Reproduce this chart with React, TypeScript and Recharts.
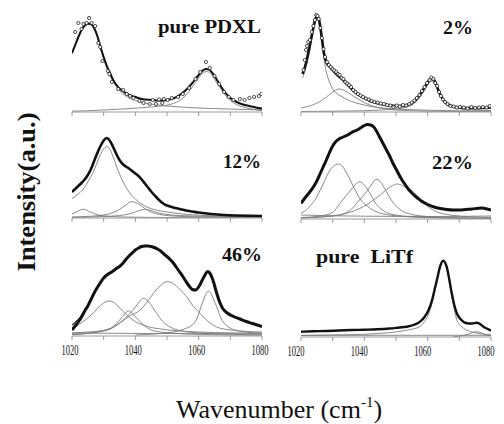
import React from "react";
import { ComposedChart, Line, Scatter, XAxis, YAxis } from "recharts";

type Pt = [number, number];

// wavenumber (cm-1), intensity (a.u.)
const TICKS = [1020, 1030, 1040, 1050, 1060, 1070, 1080];

// pure PDXL
const pdxlFit: Pt[] = [
  [1020, 59], [1021, 67], [1022, 75], [1023, 82], [1024, 86.5], [1025, 88.5], [1026, 88], [1027, 84],
  [1028, 76], [1029, 65], [1030, 55], [1031, 46], [1032, 39], [1033, 32], [1034, 27], [1036, 21],
  [1038, 17], [1040, 15], [1042, 13], [1045, 12], [1048, 11.5], [1050, 12], [1052, 13.5], [1054, 17],
  [1056, 22], [1058, 29], [1060, 37], [1061.5, 42], [1062.5, 43], [1063.5, 42], [1065, 36], [1066, 31],
  [1068, 21], [1070, 14], [1072, 10], [1074, 7.5], [1076, 6], [1078, 4.5], [1080, 3.5],
];
const pdxlBandA: Pt[] = [
  [1020, 58], [1021, 66], [1022, 74], [1023, 81], [1024, 85.5], [1025, 87.5], [1026, 87], [1027, 83],
  [1028, 75], [1029, 64], [1030, 53], [1031, 44], [1032, 36.5], [1033, 30.5], [1034, 25.5], [1036, 18.5],
  [1038, 14], [1040, 11.5], [1043, 9], [1046, 7.5], [1050, 6], [1055, 4.8], [1060, 4], [1065, 3.4],
  [1070, 2.9], [1075, 2.5], [1080, 2.2],
];
const pdxlBandB: Pt[] = [
  [1020, 0.8], [1025, 1.3], [1030, 2], [1035, 2.8], [1040, 3.8], [1045, 5], [1048, 6], [1050, 6.8],
  [1052, 8.5], [1054, 11.5], [1056, 17], [1058, 25], [1060, 34], [1061.5, 39.5], [1062.5, 40.5],
  [1063.5, 39.5], [1065, 33], [1066, 28], [1068, 18.5], [1070, 11.5], [1072, 7.5], [1074, 5], [1076, 3.5],
  [1078, 2.2], [1080, 1.3],
];
const pdxlPoints: Pt[] = [
  [1021, 80], [1022, 89], [1023, 83], [1023.6, 88], [1024.6, 89], [1025.4, 94], [1026.2, 89], [1027.3, 86],
  [1028.3, 69], [1028.9, 65], [1029.6, 51], [1031.3, 41], [1031.8, 38], [1032.6, 30], [1034.6, 23],
  [1036.2, 22], [1037.3, 18], [1038.3, 16], [1039.4, 14], [1041.3, 11], [1042.6, 9], [1044.5, 8],
  [1045.5, 12], [1046.5, 8], [1047.5, 12.5], [1048.5, 9], [1049, 13], [1050.2, 12], [1051.5, 14],
  [1053.5, 15], [1055, 18], [1057, 24], [1059, 33], [1060.5, 40], [1062.3, 50], [1063.5, 44], [1065, 36],
  [1066.5, 28], [1068, 20], [1069.5, 15], [1071, 12], [1073, 13], [1074.5, 12], [1076, 14], [1077.5, 15],
  [1079, 16], [1079.8, 18],
];

// 2%
const twoFit: Pt[] = [
  [1020.5, 38], [1021.5, 48], [1022.5, 62], [1023.5, 78], [1024.3, 90], [1025, 96], [1025.7, 92],
  [1026.5, 76], [1027.3, 58], [1028, 50], [1029, 45.5], [1030, 42], [1031, 38.5], [1032, 35.5], [1033, 33],
  [1034, 29.5], [1035, 26.5], [1036, 23], [1037, 20], [1038, 17.5], [1040, 14], [1042, 11], [1044, 9],
  [1046, 7.5], [1048, 6.5], [1050, 6], [1052, 6], [1054, 7.5], [1055.5, 10], [1057, 15], [1058.5, 22],
  [1060, 29.5], [1061, 33.5], [1062, 32], [1063, 25], [1064, 17], [1065, 12], [1066, 8.5], [1068, 5.5],
  [1070, 4.5], [1072, 4], [1076, 4], [1080, 4.5],
];
const twoBandA: Pt[] = [
  [1020.5, 34], [1021.5, 44], [1022.5, 58], [1023.5, 75], [1024.3, 88], [1025, 93], [1025.7, 89],
  [1026.5, 72], [1027.3, 52], [1028, 40], [1029, 30], [1030, 23], [1031, 19.5], [1032, 17], [1034, 13.5],
  [1036, 10.5], [1038, 8.5], [1040, 7], [1043, 5], [1046, 4], [1050, 3], [1055, 2.3], [1060, 1.8],
  [1070, 1.2], [1080, 1],
];
const twoBandB: Pt[] = [
  [1020, 4], [1022, 5.5], [1024, 7.5], [1026, 10.5], [1028, 15], [1030, 20], [1031, 22], [1032, 23],
  [1033, 22.5], [1034, 21], [1036, 17], [1038, 13], [1040, 9.5], [1042, 6.5], [1045, 4], [1050, 2],
  [1055, 1.2], [1060, 0.8], [1080, 0.3],
];
const twoBandC: Pt[] = [
  [1020, 0.5], [1030, 0.8], [1040, 1.3], [1045, 2], [1050, 3], [1053, 4.5], [1055, 7], [1057, 12.5],
  [1058.5, 19], [1060, 27], [1061, 31], [1062, 29.5], [1063, 23], [1064, 15.5], [1065, 10.5], [1066, 7.5],
  [1068, 4.5], [1070, 3.3], [1075, 2], [1080, 1.5],
];
const twoPoints: Pt[] = [
  [1020.8, 42], [1021.2, 52], [1021.6, 62], [1021.9, 66], [1022.3, 70], [1022.8, 72], [1023.4, 80],
  [1023.9, 86], [1024.4, 92], [1024.8, 97], [1025.2, 96], [1025.6, 93], [1026.1, 84], [1026.6, 74],
  [1027.1, 63], [1027.6, 55], [1028.2, 50], [1028.8, 47], [1029.4, 45], [1030, 43], [1030.5, 41.5],
  [1031.1, 40], [1031.7, 38], [1032.2, 37], [1032.8, 34], [1033.4, 33], [1034, 30], [1034.6, 28.5],
  [1035.2, 27], [1035.8, 25], [1036.5, 22], [1037.2, 20], [1038, 18], [1038.8, 16.5], [1039.6, 15],
  [1040.5, 13.5], [1041.4, 12.5], [1042.3, 11], [1043.2, 10], [1044.2, 9.5], [1045.2, 8.5], [1046.2, 8],
  [1047.2, 7], [1048.2, 6.5], [1049.2, 5], [1050.2, 6.5], [1051.2, 5.5], [1052.2, 7], [1053.2, 6.5],
  [1054.2, 8], [1055, 9.5], [1055.8, 11.5], [1056.6, 14], [1057.4, 17], [1058.2, 21], [1059, 25],
  [1059.8, 29], [1060.6, 32], [1061.2, 34.5], [1061.8, 33], [1062.4, 29], [1063, 26], [1063.6, 20],
  [1064.2, 16], [1064.8, 12.5], [1065.5, 10], [1066.3, 8], [1067.2, 6], [1068.2, 5.5], [1069.2, 4.5],
  [1070.2, 5], [1071.4, 4.5], [1072.6, 3.5], [1073.8, 5], [1075, 4], [1076.2, 4.5], [1077.4, 5],
  [1078.6, 4.5], [1079.6, 6],
];

// 12%
const twelveFit: Pt[] = [
  [1020, 26], [1021, 29], [1022, 32], [1023, 35], [1024, 38.5], [1025, 43], [1026, 49], [1027, 57],
  [1028, 65], [1029, 72], [1030, 77.5], [1031, 80], [1032, 77], [1033, 71], [1034, 64], [1035, 58],
  [1036, 54], [1037, 51.5], [1038, 49.5], [1039, 47], [1040, 44.5], [1041, 42], [1042, 38.5], [1043, 34.5],
  [1044, 30.5], [1045, 26.5], [1046, 23], [1047, 19.5], [1048, 16.5], [1049, 14], [1050, 12.5],
  [1052, 10.5], [1054, 9], [1056, 7.5], [1058, 6.5], [1060, 5.5], [1064, 4], [1068, 3], [1072, 2.5],
  [1076, 2.2], [1080, 2],
];
const twelveBandA: Pt[] = [
  [1020, 19.5], [1021, 21.5], [1022, 24], [1023, 27], [1024, 31], [1025, 36], [1026, 41.5], [1027, 48],
  [1028, 56], [1029, 63.5], [1030, 69], [1031, 71.5], [1032, 68.5], [1033, 61], [1034, 52], [1035, 44],
  [1036, 37], [1037, 31], [1038, 26], [1040, 19], [1042, 14], [1044, 10.5], [1046, 8.5], [1048, 7],
  [1050, 6], [1054, 4.3], [1058, 3.2], [1064, 2.3], [1070, 1.7], [1080, 1.2],
];
const twelveBandB: Pt[] = [
  [1020, 4], [1021, 5.3], [1022, 7], [1023, 8.5], [1023.6, 8.8], [1024.5, 8], [1025.5, 6.3], [1026.7, 4.7],
  [1028, 3.3], [1030, 2.2], [1033, 1.4], [1038, 0.9], [1045, 0.6], [1060, 0.3], [1080, 0.2],
];
const twelveBandC: Pt[] = [
  [1020, 1], [1025, 1.6], [1030, 3], [1033, 5.5], [1035, 8.5], [1037, 13], [1038.8, 16.3], [1040, 15.5],
  [1041.5, 13], [1043, 9.5], [1044.6, 6.5], [1046.5, 4.3], [1048.8, 3], [1052, 2], [1058, 1.2],
  [1070, 0.6], [1080, 0.4],
];
const twelveBandD: Pt[] = [
  [1020, 0.6], [1030, 1.5], [1035, 2.5], [1038, 4], [1040, 6], [1041.5, 7.8], [1043, 8.7], [1044.5, 8],
  [1046, 6.3], [1047.8, 4.7], [1050, 3.5], [1054, 2.5], [1058, 2], [1065, 1.4], [1080, 0.8],
];

// 22%
const ttFit: Pt[] = [
  [1020, 15.5], [1021, 20], [1022, 24], [1023, 28], [1024, 32.5], [1025, 38], [1026, 45], [1027, 52],
  [1028, 59], [1029, 66.5], [1030, 73], [1031, 77.5], [1032, 80], [1033, 81.5], [1034, 83], [1035, 84.5],
  [1036, 86.5], [1037, 88], [1038, 89.5], [1039, 91.5], [1040, 93.5], [1041, 94.5], [1042, 94], [1043, 92],
  [1044, 87], [1045, 81], [1046, 75], [1047, 69], [1048, 63], [1049, 56], [1050, 50], [1051, 44],
  [1052, 38.5], [1053, 34], [1054, 29.5], [1055, 26], [1056, 23], [1057, 20.5], [1058, 18], [1060, 14.5],
  [1062, 12], [1064, 10.5], [1066, 9.5], [1068, 9], [1070, 9], [1072, 9.5], [1074, 10], [1076, 10.8],
  [1077, 11], [1078, 10.5], [1080, 9],
];
const ttBandA: Pt[] = [
  [1020, 5.7], [1021, 7.5], [1022, 10], [1023, 13.5], [1024, 17.5], [1025, 22.3], [1026, 28.5], [1027, 35],
  [1028, 42], [1029, 48], [1030, 52], [1031, 54.5], [1031.8, 55], [1033, 53], [1034.4, 46], [1036, 36],
  [1037.6, 26], [1039, 18.5], [1040.5, 14], [1041.8, 10.7], [1044, 7], [1047.9, 4], [1052, 2.6],
  [1060, 1.5], [1070, 0.9], [1080, 0.6],
];
const ttBandB: Pt[] = [
  [1020, 1.5], [1026, 3], [1030, 6.5], [1032.3, 15.7], [1034, 22.5], [1036, 30], [1037.5, 35.5],
  [1038.6, 37.3], [1040, 34], [1041.8, 25.7], [1043.5, 16], [1045, 10.7], [1047, 6.5], [1050, 4],
  [1055, 2.3], [1065, 1.2], [1080, 0.6],
];
const ttBandC: Pt[] = [
  [1020, 1.2], [1030, 3], [1034, 6], [1036, 10], [1037.6, 15.7], [1039, 21], [1040.7, 27.3], [1042.5, 35.5],
  [1043.7, 39.7], [1045, 37.5], [1047, 27.3], [1048.5, 19], [1050.2, 12.3], [1052, 8], [1055, 4.5],
  [1060, 2.5], [1070, 1.2], [1080, 0.8],
];
const ttBandD: Pt[] = [
  [1020, 1], [1028, 2.5], [1032, 4], [1034.4, 5.7], [1037, 8.5], [1039.7, 12.3], [1042, 17], [1045, 24],
  [1047, 29.5], [1049, 33.5], [1050.2, 35], [1052, 33.5], [1054, 29.5], [1055.5, 27.3], [1057, 22],
  [1059, 15.5], [1060.8, 10.7], [1063, 7], [1066, 4.5], [1070, 3], [1075, 2], [1080, 1.5],
];
const ttBase: Pt[] = [
  [1020, 4], [1030, 3.2], [1040, 2.8], [1050, 2.6], [1060, 2.5], [1070, 2.6], [1080, 3],
];

// 46%
const fsFit: Pt[] = [
  [1020, 6], [1021, 10], [1022, 14], [1023, 19], [1024, 25], [1025, 30], [1026, 36.5], [1027, 43],
  [1028, 48.5], [1029, 53.5], [1030, 58], [1031, 61], [1032, 63], [1033, 65], [1034, 67.5], [1035, 69.5],
  [1036, 72.5], [1037, 76.5], [1038, 80], [1039, 83], [1040, 86], [1041, 88], [1042, 89.5], [1043, 90],
  [1044, 90], [1045, 89.5], [1046, 88.5], [1047, 87], [1048, 85], [1049, 82], [1050, 79.5], [1051, 76.5],
  [1052, 73], [1053, 68.5], [1054, 64], [1055, 59.5], [1056, 54.5], [1057, 50], [1058, 46.5], [1059, 46],
  [1060, 49], [1061, 55], [1062, 61], [1062.8, 64.5], [1063.5, 63], [1064.5, 56], [1065.5, 45],
  [1066.5, 35], [1067.5, 28], [1069, 23], [1071, 19.5], [1073, 17], [1075, 14.5], [1077, 12.5], [1080, 9.5],
];
const fsModelStart: Pt[] = [
  [1020, 11], [1021, 13.5], [1022, 16.5], [1023, 20.5], [1024, 25], [1025, 30],
];
const fsBandA: Pt[] = [
  [1020, 7], [1022, 11], [1024, 15.5], [1026, 21], [1027, 24], [1028, 27.5], [1029, 30.5], [1030, 33],
  [1031, 34.7], [1031.8, 35], [1033, 34], [1034.5, 30], [1036, 25], [1037.3, 21], [1039, 16.5],
  [1040.5, 13.5], [1042.5, 11], [1045, 8.5], [1048, 7], [1052, 5.5], [1060, 4], [1070, 3], [1080, 2.5],
];
const fsBandB: Pt[] = [
  [1020, 1.5], [1026, 3], [1030, 5], [1032, 7], [1034.1, 12.7], [1036, 19.5], [1037.8, 25], [1039.5, 21],
  [1041.5, 14.3], [1043, 10], [1045, 6], [1048, 4], [1052, 2.7], [1060, 1.6], [1080, 0.8],
];
const fsBandC: Pt[] = [
  [1020, 1.5], [1026, 3], [1030, 5.5], [1033.3, 9], [1035.5, 14], [1037.3, 19.3], [1039, 25], [1040.5, 31],
  [1042.5, 37.7], [1044.5, 33], [1046.7, 22.7], [1048.5, 15], [1051, 9], [1054, 5.5], [1060, 3],
  [1070, 1.7], [1080, 1.2],
];
const fsBandD: Pt[] = [
  [1020, 3], [1025, 4], [1028.8, 5], [1032, 7.5], [1035, 13], [1038, 19.5], [1041.5, 26], [1043.5, 33],
  [1045.7, 42.7], [1048, 50.5], [1049.9, 54.3], [1052, 52.5], [1054, 47], [1056.2, 39.3], [1058, 31],
  [1060.4, 22.7], [1063, 14.5], [1065.7, 9], [1069, 6.5], [1073, 5], [1080, 4],
];
const fsBandE: Pt[] = [
  [1040, 1], [1048, 2.5], [1052, 4], [1055, 6.5], [1058.3, 12], [1059.5, 18], [1060.4, 26], [1061.5, 36],
  [1062.5, 43], [1063, 45], [1063.8, 43], [1064.8, 36], [1065.7, 29.3], [1067, 18], [1069, 10],
  [1071, 6.5], [1075, 4], [1080, 2.5],
];
const fsBase: Pt[] = [[1020, 3], [1050, 2.5], [1080, 3]];

// pure LiTf
const litfFit: Pt[] = [
  [1020, 5.3], [1024, 5.7], [1028, 6], [1032, 6.5], [1036, 7], [1040, 7.3], [1044, 7.7], [1048, 8.5],
  [1051, 9.5], [1053.4, 10.3], [1055.5, 12], [1057.6, 15.3], [1059, 20], [1060.3, 27], [1061.4, 37],
  [1062.4, 50.3], [1063.2, 61], [1063.9, 70.3], [1064.9, 76.3], [1066, 70.3], [1066.8, 58], [1067.6, 43.7],
  [1068.4, 32], [1069.2, 23.7], [1070.5, 17.5], [1072.3, 13.7], [1074, 13.5], [1075.5, 14.3], [1076.5, 13],
  [1077.6, 10.3], [1079, 8], [1080, 6.3],
];
const litfBandA: Pt[] = [
  [1020, 1.5], [1030, 2], [1040, 2.7], [1045, 3.7], [1050, 5], [1053, 6.5], [1055, 7.8], [1057.6, 10.5],
  [1059, 15.5], [1060.3, 23], [1061.4, 34], [1062.4, 48], [1063.2, 59.5], [1063.9, 69], [1064.9, 75.5],
  [1066, 69], [1066.8, 56], [1067.6, 41], [1068.4, 28], [1069.2, 17], [1070.5, 11], [1072.3, 7],
  [1074, 5], [1076.5, 3.3], [1080, 2.3],
];
const litfBandB: Pt[] = [
  [1068, 0.3], [1071, 1.3], [1073, 3], [1074.5, 4.8], [1075.5, 5.3], [1076.5, 4.6], [1078, 2.6], [1080, 1.2],
];
const litfBase: Pt[] = [[1020, 1.7], [1050, 1.7], [1080, 1.7]];

const SERIF = "'Liberation Serif', 'Times New Roman', serif";
const AXIS = "#9a9a9a";
const BAND = "#7d7d7d";
const PAD = 16;

const rows = (pts: Pt[]) => pts.map(([w, h]) => ({ w, h }));

const NoTick = () => <g />;

const makeLabelTick = (shift: number) => (props: any) => {
  const { x, y, payload } = props;
  if (payload.value % 20 !== 0) return <g />;
  return (
    <text
      x={x + shift}
      y={y + 13}
      textAnchor="middle"
      fontFamily={SERIF}
      fontSize={14}
      textLength={17}
      lengthAdjust="spacingAndGlyphs"
      fill="#111"
    >
      {payload.value}
    </text>
  );
};

const Dot = (props: any) => (
  <circle cx={props.cx} cy={props.cy} r={1.6} fill="#fff" stroke="#222" strokeWidth={0.8} />
);

type PanelProps = {
  left: number;
  top: number;
  span: number;
  labelShift?: number;
  bands: Pt[][];
  thick: Pt[];
  thickWidth: number;
  model?: Pt[];
  points?: Pt[];
};

function Panel({ left, top, span, labelShift, bands, thick, thickWidth, model, points }: PanelProps) {
  return (
    <div style={{ position: "absolute", left: left - PAD, top }}>
      <ComposedChart width={190 + PAD * 2} height={span + 24} margin={{ top: 0, right: PAD, bottom: 0, left: PAD }}>
        <XAxis
          type="number"
          dataKey="w"
          domain={[1020, 1080]}
          ticks={TICKS}
          interval={0}
          allowDataOverflow
          height={24}
          tickSize={4}
          axisLine={{ stroke: AXIS }}
          tickLine={{ stroke: AXIS }}
          tick={labelShift === undefined ? NoTick : makeLabelTick(labelShift)}
        />
        <YAxis hide type="number" domain={[0, span]} allowDataOverflow />
        {bands.map((b, i) => (
          <Line
            key={"b" + i}
            data={rows(b)}
            dataKey="h"
            type="monotone"
            stroke={BAND}
            strokeWidth={0.9}
            dot={false}
            isAnimationActive={false}
          />
        ))}
        {model && (
          <Line
            data={rows(model)}
            dataKey="h"
            type="monotone"
            stroke="#222"
            strokeWidth={1.2}
            dot={false}
            isAnimationActive={false}
          />
        )}
        <Line
          data={rows(thick)}
          dataKey="h"
          type="monotone"
          stroke="#111"
          strokeWidth={thickWidth}
          dot={false}
          isAnimationActive={false}
        />
        {points && <Scatter data={rows(points)} dataKey="h" shape={Dot} isAnimationActive={false} />}
      </ComposedChart>
    </div>
  );
}

const title = {
  fontFamily: SERIF,
  fontWeight: 700,
  fontSize: 19,
  fill: "#111",
  lengthAdjust: "spacingAndGlyphs",
} as const;

export default function App() {
  return (
    <div style={{ position: "absolute", left: 0, top: 0, width: 504, height: 424, background: "#fff", overflow: "hidden" }}>
      <Panel left={72} top={8} span={104} thick={pdxlFit} thickWidth={2} bands={[pdxlBandA, pdxlBandB]} points={pdxlPoints} />
      <Panel left={301} top={8} span={104} thick={twoFit} thickWidth={2.6} bands={[twoBandA, twoBandB, twoBandC]} points={twoPoints} />
      <Panel left={72} top={130} span={88} thick={twelveFit} thickWidth={2.6} bands={[twelveBandA, twelveBandB, twelveBandC, twelveBandD]} />
      <Panel left={301} top={122} span={97} thick={ttFit} thickWidth={3} bands={[ttBase, ttBandA, ttBandB, ttBandC, ttBandD]} />
      <Panel left={72} top={240} span={96} labelShift={-2} thick={fsFit} thickWidth={3} model={fsModelStart} bands={[fsBase, fsBandA, fsBandB, fsBandC, fsBandD, fsBandE]} />
      <Panel left={301} top={250} span={87} labelShift={-5} thick={litfFit} thickWidth={2.4} bands={[litfBase, litfBandA, litfBandB]} />
      <svg width={504} height={424} style={{ position: "absolute", left: 0, top: 0, pointerEvents: "none" }}>
        <text x={158} y={33} textLength={103} {...title}>pure PDXL</text>
        <text x={443} y={34} textLength={30} {...title}>2%</text>
        <text x={223} y={168} textLength={38} {...title}>12%</text>
        <text x={432} y={169} textLength={41} {...title}>22%</text>
        <text x={222} y={261} textLength={40} {...title}>46%</text>
        <text x={316} y={263} textLength={97} {...title} style={{ whiteSpace: "pre" }}>pure  LiTf</text>
        <text
          transform="translate(35,192) rotate(-90)"
          textAnchor="middle"
          fontFamily={SERIF}
          fontWeight={700}
          fontSize={26}
          textLength={159}
          lengthAdjust="spacingAndGlyphs"
          fill="#111"
        >
          Intensity(a.u.)
        </text>
        <text x={176} y={418} fontFamily={SERIF} fontSize={26} fill="#111">
          Wavenumber (cm
          <tspan fontSize={15} dy={-11}>-1</tspan>
          <tspan dy={11}>)</tspan>
        </text>
      </svg>
    </div>
  );
}
